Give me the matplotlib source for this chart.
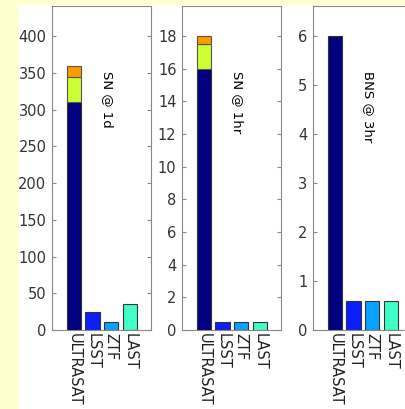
import matplotlib.pyplot as plt
import matplotlib.patches as patches

# Data
surveys = ['ULTRASAT', 'LSST', 'ZTF', 'LAST']
panel_titles = ['SN @ 1d', 'SN @ 1hr', 'BNS @ 3hr']

# ULTRASAT stacked segments (base, middle, top) per panel
ultrasat_base = [310, 16, 6]
ultrasat_mid = [35, 1.5, 0]
ultrasat_top = [15, 0.5, 0]

# Other surveys per panel: LSST, ZTF, LAST
lsst_vals = [24, 0.5, 0.6]
ztf_vals = [11, 0.5, 0.6]
last_vals = [35, 0.5, 0.6]

y_ticks = [[0, 50, 100, 150, 200, 250, 300, 350, 400],
           [0, 2, 4, 6, 8, 10, 12, 14, 16, 18],
           [0, 1, 2, 3, 4, 5, 6]]
y_tops = [441, 19.84, 6.61]

survey_colors = ['#000080', '#0a1eff', '#0aa0ff', '#40ffc8']
mid_color = '#ccff33'
top_color = '#ff9900'

W, H = 406, 409
fig = plt.figure(figsize=(W / 100, H / 100), dpi=100)
fig.patch.set_facecolor('white')

# pale yellow page strips (left and top)
fig.add_artist(patches.Rectangle((0, 0), 19 / W, 1, transform=fig.transFigure,
                                 facecolor='#ffffd0', edgecolor='none', zorder=-10))
fig.add_artist(patches.Rectangle((0, 1 - 5 / H), 1, 5 / H, transform=fig.transFigure,
                                 facecolor='#ffffd0', edgecolor='none', zorder=-10))

lefts = [52, 182, 313]
ax_w, top_px, bot_px = 99, 6, 330
x = [1, 2, 3, 4]

for i in range(3):
    ax = fig.add_axes([lefts[i] / W, 1 - bot_px / H, ax_w / W, (bot_px - top_px) / H])
    others = [lsst_vals[i], ztf_vals[i], last_vals[i]]
    ax.bar(x[0], ultrasat_base[i], width=0.78, color=survey_colors[0],
           edgecolor='#333333', linewidth=0.8)
    if ultrasat_mid[i] > 0:
        ax.bar(x[0], ultrasat_mid[i], bottom=ultrasat_base[i], width=0.78,
               color=mid_color, edgecolor='#555555', linewidth=0.8)
        ax.bar(x[0], ultrasat_top[i], bottom=ultrasat_base[i] + ultrasat_mid[i],
               width=0.78, color=top_color, edgecolor='#555555', linewidth=0.8)
    ax.bar(x[1:], others, width=0.78, color=survey_colors[1:],
           edgecolor='#333333', linewidth=0.8)

    ax.set_xlim(-0.2, 5.15)
    ax.set_ylim(0, y_tops[i])
    ax.set_yticks(y_ticks[i])
    ax.set_xticks(x)
    ax.set_xticklabels(surveys, rotation=-90, fontsize=10.5, color='#222222')
    ax.tick_params(axis='y', direction='in', length=3, right=True, labelsize=10.5,
                   labelcolor='#333333', color='#888888', pad=4)
    ax.tick_params(axis='x', length=0, pad=2)
    for s in ax.spines.values():
        s.set_color('#888888')
        s.set_linewidth(0.8)
    ax.text(0.556, 0.80, panel_titles[i], transform=ax.transAxes, rotation=-90,
            ha='center', va='top', fontsize=9.5, color='black')

fig.savefig('out.png', dpi=100, facecolor='white')
